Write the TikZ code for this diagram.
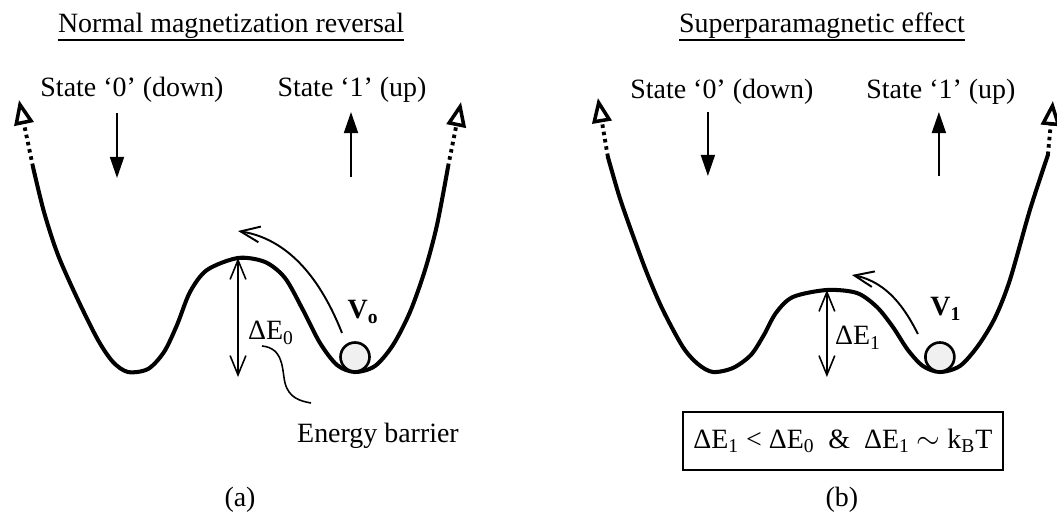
\documentclass[tikz,border=0pt]{standalone}
\usepackage{fontspec}
\setmainfont{Liberation Serif}
\usepackage{tikz}
\usetikzlibrary{arrows.meta,positioning}

\newcommand{\ulbox}[1]{\setbox0=\hbox{#1}\rlap{\rule[-5pt]{\wd0}{1.3pt}}\box0}

\begin{document}
\begin{tikzpicture}[x=0.02cm, y=-0.02cm,
  every node/.style={font=\fontsize{15.9}{18}\selectfont, inner sep=0pt},
  well/.style={line width=2.3pt, line join=round, line cap=round},
  wellend/.style={line width=2.2pt, dash pattern=on 2pt off 2.2pt,
    -{Triangle[open, length=14pt, width=11pt, line width=2pt]}},
  spin/.style={line width=1pt, -{Triangle[length=12pt, width=8pt]}},
  barrier/.style={line width=0.9pt,
    {Straight Barb[length=11pt, width=9pt]}-{Straight Barb[length=11pt, width=9pt]}},
  hop/.style={line width=1.1pt, -{Straight Barb[length=11pt, width=9pt]}},
  lead/.style={line width=0.9pt},
  ball/.style={circle, draw, line width=1.5pt, fill=gray!12, minimum size=0.58cm}]

  \useasboundingbox (0,0) rectangle (1057,516);

  % (a) normal reversal
  \node (ttla) at (231,27) {\ulbox{Normal magnetization reversal}};
  \node (s0a) at (132,90) {State ‘0’ (down)};
  \node (s1a) at (352,90) {State ‘1’ (up)};
  \draw[spin] (117,113) -- (117,178);
  \draw[spin] (351,177) -- (351,112);

  \draw[well] plot[smooth, tension=0.5] coordinates {(33,167) (44,212) (58,255) (78,300)
    (98,340) (113,362) (128,372) (148,369) (164,352) (177,325) (190,292) (207,270)
    (238,258) (265,262) (285,278) (303,310) (320,343) (337,365) (355,372) (375,366)
    (393,345) (410,312) (425,270) (437,225) (448,167)};
  \draw[wellend] (33,167) -- (19,100);
  \draw[wellend] (448,167) -- (461,102);

  \node[ball] (bla) at (355,357) {};
  \node (va) at (363,312) {\textbf{V\textsubscript{o}}};
  \coordinate (topa) at (238,258);
  \coordinate (bota) at (238,377);
  \draw[barrier] (topa) -- (bota);
  \node (dea) at (271,333) {ΔE\textsubscript{0}};
  \coordinate (hopa) at (342,333);
  \coordinate (taila) at (238,231);
  \draw[hop] (hopa) .. controls (325,290) and (295,240) .. (taila);

  \node (eba) at (378,436) {Energy barrier};
  \coordinate (lda) at (262,346);
  \coordinate (ldb) at (311,403);
  \draw[lead] (lda) .. controls (284,348) and (282,370) .. (285,383)
    .. controls (289,398) and (300,401) .. (ldb);
  \node (capa) at (240,500) {(a)};

  % (b) superparamagnetic
  \begin{scope}[xshift=11.76cm]
    \node (ttlb) at (234,27) {\ulbox{Superparamagnetic effect}};
    \node (s0b) at (134,92) {State ‘0’ (down)};
    \node (s1b) at (353,92) {State ‘1’ (up)};
    \draw[spin] (120,112) -- (120,176);
    \draw[spin] (351,176) -- (351,112);

    \draw[well] plot[smooth, tension=0.5] coordinates {(20,157) (31,195) (42,227) (59,273)
      (75,310) (95,347) (110,364) (125,372) (145,368) (163,355) (176,335) (188,313)
      (205,297) (239,290) (269,293) (289,307) (305,327) (320,350) (335,366) (352,372)
      (372,366) (390,346) (407,318) (422,280) (442,210) (460,155)};
    \draw[wellend] (20,157) -- (10,98);
    \draw[wellend] (460,155) -- (465,101);

    \node[ball] (blb) at (352,357) {};
    \node (vb) at (358,309) {\textbf{V\textsubscript{1}}};
    \coordinate (topb) at (239,290);
    \coordinate (botb) at (239,377);
    \draw[barrier] (topb) -- (botb);
    \node (deb) at (270,338) {ΔE\textsubscript{1}};
    \coordinate (hopb) at (330,334);
    \coordinate (tailb) at (264,275);
    \draw[hop] (hopb) .. controls (318,310) and (300,282) .. (tailb);

    \node[draw, line width=1.3pt, minimum width=6.4cm, minimum height=1.16cm] (cond) at (255,441)
      {ΔE\textsubscript{1} < ΔE\textsubscript{0} \ \& \ ΔE\textsubscript{1} $\sim$ k\textsubscript{B}T};
    \node (capb) at (254,500) {(b)};
  \end{scope}
\end{tikzpicture}
\end{document}
